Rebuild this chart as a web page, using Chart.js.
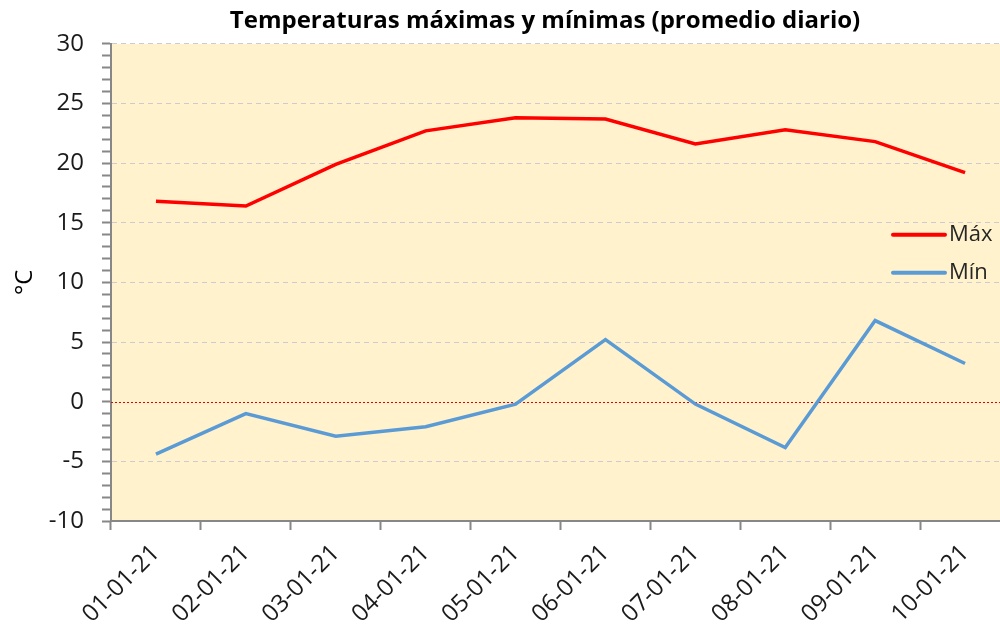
<!DOCTYPE html>
<html>
<head>
<meta charset="utf-8">
<script src="https://cdn.jsdelivr.net/npm/chart.js@4"></script>
<style>
  html, body { margin: 0; padding: 0; background: #fff; overflow: hidden; }
  #wrap { width: 1090px; height: 631px; }
</style>
</head>
<body>
<div id="wrap"><canvas id="chart"></canvas></div>
<script>
// Datos
const dates = ['01-01-21', '02-01-21', '03-01-21', '04-01-21', '05-01-21',
               '06-01-21', '07-01-21', '08-01-21', '09-01-21', '10-01-21'];
const maxTemps = [16.8, 16.4, 19.9, 22.7, 23.8, 23.7, 21.6, 22.8, 21.8, 19.2];
const minTemps = [-4.4, -1.0, -2.9, -2.1, -0.2, 5.2, -0.2, -3.85, 6.8, 3.2];
const yMin = -10;
const yMax = 30;

const FONT = "'Open Sans', 'Noto Sans', sans-serif";
const AXIS_GRAY = '#878787';

// Plot background + dotted red zero line
const plotDecor = {
  id: 'plotDecor',
  beforeDraw(chart) {
    const { ctx, chartArea: a } = chart;
    ctx.save();
    ctx.fillStyle = '#FFF2CC';
    ctx.fillRect(a.left, a.top, a.right - a.left, a.bottom - a.top);
    ctx.restore();
  },
  beforeDatasetsDraw(chart) {
    const { ctx, chartArea: a, scales } = chart;
    const y0 = Math.round(scales.y.getPixelForValue(0)) + 0.5;
    ctx.save();
    ctx.strokeStyle = '#E00000';
    ctx.lineWidth = 1;
    ctx.setLineDash([2, 2]);
    ctx.beginPath();
    ctx.moveTo(a.left, y0);
    ctx.lineTo(a.right, y0);
    ctx.stroke();
    ctx.restore();
  }
};

// Legend drawn inside the plot area, on the right
const innerLegend = {
  id: 'innerLegend',
  afterDraw(chart) {
    const { ctx, chartArea: a } = chart;
    const x0 = a.right - 117;
    let y = a.top + 191;
    ctx.save();
    ctx.font = '22px ' + FONT;
    ctx.textBaseline = 'middle';
    chart.data.datasets.forEach(ds => {
      ctx.strokeStyle = ds.borderColor;
      ctx.lineWidth = 4;
      ctx.lineCap = 'round';
      ctx.beginPath();
      ctx.moveTo(x0, y);
      ctx.lineTo(x0 + 52, y);
      ctx.stroke();
      ctx.fillStyle = '#262626';
      ctx.fillText(ds.label, x0 + 56, y);
      y += 38;
    });
    ctx.restore();
  }
};

new Chart(document.getElementById('chart'), {
  type: 'line',
  data: {
    labels: dates,
    datasets: [
      {
        label: 'Máx',
        data: maxTemps,
        borderColor: '#FF0000',
        borderWidth: 3.5,
        pointRadius: 0,
        tension: 0
      },
      {
        label: 'Mín',
        data: minTemps,
        borderColor: '#5B9BD5',
        borderWidth: 3.5,
        pointRadius: 0,
        tension: 0
      }
    ]
  },
  options: {
    responsive: true,
    maintainAspectRatio: false,
    animation: false,
    plugins: {
      legend: { display: false },
      tooltip: { enabled: false },
      title: {
        display: true,
        text: 'Temperaturas máximas y mínimas (promedio diario)',
        color: '#000',
        font: { family: FONT, size: 24, weight: 'bold' },
        padding: { top: 7, bottom: 8 }
      }
    },
    scales: {
      x: {
        type: 'category',
        offset: true,
        afterFit: s => { s.height = 110; },
        grid: {
          offset: true,
          drawOnChartArea: false,
          tickLength: 9,
          tickWidth: 2,
          tickColor: AXIS_GRAY
        },
        border: { color: AXIS_GRAY, width: 2 },
        ticks: {
          color: '#1a1a1a',
          font: { family: FONT, size: 24 },
          minRotation: 45,
          maxRotation: 45,
          autoSkip: false,
          padding: 9
        }
      },
      y: {
        min: yMin,
        max: yMax,
        afterFit: s => { s.width = 111; },
        title: {
          display: true,
          text: '°C',
          color: '#000',
          font: { family: FONT, size: 24 },
          padding: { top: 11, bottom: 0 }
        },
        grid: {
          color: c => (c.tick && c.tick.value % 5 === 0 && c.tick.value !== 0 && c.tick.value !== yMin)
            ? '#CBCBD2' : 'rgba(0,0,0,0)',
          lineWidth: 1,
          tickLength: 9,
          tickWidth: 2,
          tickColor: AXIS_GRAY,
          tickBorderDash: []
        },
        border: { color: AXIS_GRAY, width: 2, dash: [5, 4] },
        ticks: {
          stepSize: 1,
          autoSkip: false,
          color: '#1a1a1a',
          font: { family: FONT, size: 24 },
          padding: 18,
          callback: v => (v % 5 === 0 ? v : '')
        }
      },
      // empty right axis: keeps the plot running past the visible edge
      yRight: {
        position: 'right',
        min: yMin,
        max: yMax,
        afterFit: s => { s.width = 80; },
        grid: { display: false },
        border: { display: false },
        ticks: { display: false }
      }
    }
  },
  plugins: [plotDecor, innerLegend]
});
</script>
</body>
</html>
